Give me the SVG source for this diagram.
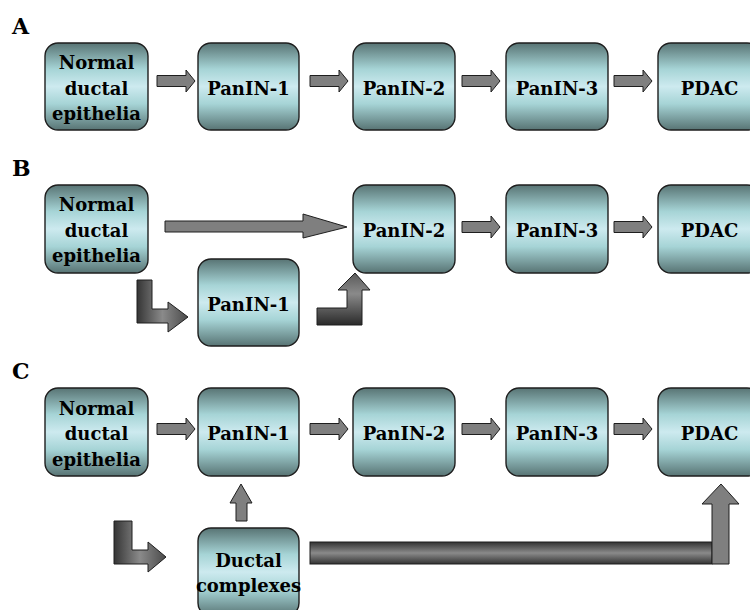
<svg xmlns="http://www.w3.org/2000/svg" width="750" height="610" viewBox="0 0 750 610">
<defs>
<linearGradient id="boxg" x1="0" y1="0" x2="0" y2="1">
<stop offset="0" stop-color="#587474"/>
<stop offset="0.3" stop-color="#a6d4d6"/>
<stop offset="0.5" stop-color="#cdeaef"/>
<stop offset="0.7" stop-color="#a6d4d6"/>
<stop offset="1" stop-color="#587474"/>
</linearGradient>
<linearGradient id="hg" x1="0" y1="0" x2="1" y2="0">
<stop offset="0" stop-color="#353535"/>
<stop offset="0.5" stop-color="#8a8a8a"/>
<stop offset="1" stop-color="#4a4a4a"/>
</linearGradient>
<linearGradient id="vg" x1="0" y1="0" x2="0" y2="1">
<stop offset="0" stop-color="#5a5a5a"/>
<stop offset="0.4" stop-color="#8a8a8a"/>
<stop offset="1" stop-color="#2a2a2a"/>
</linearGradient>
<linearGradient id="barg" x1="0" y1="0" x2="0" y2="1">
<stop offset="0" stop-color="#333"/>
<stop offset="0.5" stop-color="#8a8a8a"/>
<stop offset="1" stop-color="#333"/>
</linearGradient>
</defs>
<style>
.box{fill:url(#boxg);stroke:#1e1e1e;stroke-width:1.4}
.t{font-family:"DejaVu Serif","Liberation Serif",serif;font-weight:bold;font-size:18px;fill:#000;text-anchor:middle}
.lab{font-family:"DejaVu Serif","Liberation Serif",serif;font-weight:bold;font-size:22px;fill:#000}
.ar{fill:#7f7f7f;stroke:#1e1e1e;stroke-width:1}
.ab{stroke:#1e1e1e;stroke-width:1}
</style>
<rect width="750" height="610" fill="#fff"/>
<text class="lab" x="12" y="34">A</text>
<text class="lab" x="12" y="176">B</text>
<text class="lab" x="12" y="379">C</text>

<g id="connectors">
<path class="ar" d="M157,75.5H186V70L195,81L186,92V86.5H157Z"/>
<path class="ar" d="M310,75.5H339V70L348,81L339,92V86.5H310Z"/>
<path class="ar" d="M462,75.5H491V70L500,81L491,92V86.5H462Z"/>
<path class="ar" d="M614,75.5H643V70L652,81L643,92V86.5H614Z"/>
<path class="ar" d="M165,221H303V214L347,227L303,238V232H165Z"/>
<path class="ar" d="M462,221.5H491V216L500,227L491,238V232.5H462Z"/>
<path class="ar" d="M614,221.5H643V216L652,227L643,238V232.5H614Z"/>
<path class="ab" fill="url(#hg)" d="M137,280H152V309H168V302L188,317L168,332V323H137Z"/>
<path class="ab" fill="url(#vg)" d="M317,308H347V290H338L355,273L370,290H362V325H317Z"/>
<path class="ar" d="M157,423.5H186V418L195,429L186,440V434.5H157Z"/>
<path class="ar" d="M310,423.5H339V418L348,429L339,440V434.5H310Z"/>
<path class="ar" d="M462,423.5H491V418L500,429L491,440V434.5H462Z"/>
<path class="ar" d="M614,423.5H643V418L652,429L643,440V434.5H614Z"/>
<path class="ar" d="M236,521V503H230L241,484L252,503H247V521Z"/>
<path class="ab" fill="url(#hg)" d="M114,521H132V550H148V542L166,557L148,572V564H114Z"/>
<rect class="ab" fill="url(#barg)" x="310" y="542" width="402" height="22"/>
<path class="ar" d="M712,564V504H702L721,484L739,504H729V564Z"/>
</g>

<g id="A-normal"><rect class="box" x="45" y="43" width="103" height="87" rx="13"/>
<text class="t" x="96.5" y="69">Normal</text><text class="t" x="96.5" y="95">ductal</text><text class="t" x="96.5" y="120">epithelia</text></g>
<g id="A-panin1"><rect class="box" x="198" y="43" width="101" height="87" rx="13"/><text class="t" x="248.5" y="95">PanIN-1</text></g>
<g id="A-panin2"><rect class="box" x="353" y="43" width="102" height="87" rx="13"/><text class="t" x="404" y="95">PanIN-2</text></g>
<g id="A-panin3"><rect class="box" x="506" y="43" width="102" height="87" rx="13"/><text class="t" x="557" y="95">PanIN-3</text></g>
<g id="A-pdac"><rect class="box" x="658" y="43" width="102" height="87" rx="13"/><text class="t" x="709.5" y="95">PDAC</text></g>

<g id="B-normal"><rect class="box" x="45" y="185" width="103" height="88" rx="13"/>
<text class="t" x="96.5" y="211">Normal</text><text class="t" x="96.5" y="237">ductal</text><text class="t" x="96.5" y="262">epithelia</text></g>
<g id="B-panin1"><rect class="box" x="198" y="259" width="101" height="87" rx="13"/><text class="t" x="248.5" y="311">PanIN-1</text></g>
<g id="B-panin2"><rect class="box" x="353" y="185" width="102" height="88" rx="13"/><text class="t" x="404" y="237">PanIN-2</text></g>
<g id="B-panin3"><rect class="box" x="506" y="185" width="102" height="88" rx="13"/><text class="t" x="557" y="237">PanIN-3</text></g>
<g id="B-pdac"><rect class="box" x="658" y="185" width="102" height="88" rx="13"/><text class="t" x="709.5" y="237">PDAC</text></g>

<g id="C-normal"><rect class="box" x="45" y="388" width="103" height="88" rx="13"/>
<text class="t" x="96.5" y="415">Normal</text><text class="t" x="96.5" y="440">ductal</text><text class="t" x="96.5" y="466">epithelia</text></g>
<g id="C-panin1"><rect class="box" x="198" y="388" width="101" height="88" rx="13"/><text class="t" x="248.5" y="440">PanIN-1</text></g>
<g id="C-panin2"><rect class="box" x="353" y="388" width="102" height="88" rx="13"/><text class="t" x="404" y="440">PanIN-2</text></g>
<g id="C-panin3"><rect class="box" x="506" y="388" width="102" height="88" rx="13"/><text class="t" x="557" y="440">PanIN-3</text></g>
<g id="C-pdac"><rect class="box" x="658" y="388" width="102" height="88" rx="13"/><text class="t" x="709.5" y="440">PDAC</text></g>
<g id="C-ductal"><rect class="box" x="198" y="528" width="101" height="88" rx="13"/>
<text class="t" x="248.5" y="567">Ductal</text><text class="t" x="248.5" y="592">complexes</text></g>
</svg>
